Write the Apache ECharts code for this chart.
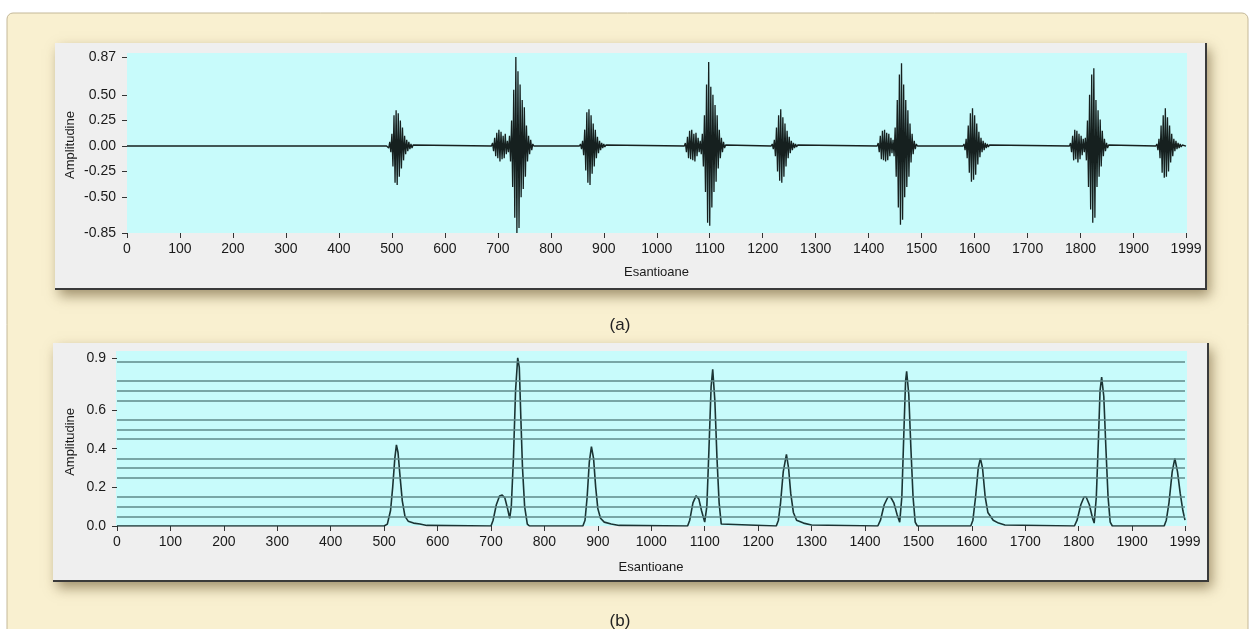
<!DOCTYPE html>
<html>
<head>
<meta charset="utf-8">
<script src="https://cdn.jsdelivr.net/npm/echarts@6/dist/echarts.min.js"></script>
<style>
html,body{margin:0;padding:0;background:#ffffff;}
#chart{width:1252px;height:629px;}
</style>
</head>
<body>
<div id="chart"></div>
<script>
// ---- tick values / labels ----
const xTicks = [0,100,200,300,400,500,600,700,800,900,1000,1100,1200,1300,1400,1500,1600,1700,1800,1900,1999];
const yTicksA = [-0.85,-0.5,-0.25,0,0.25,0.5,0.87];
const yTicksB = [0,0.2,0.4,0.6,0.87];
const yLabelsB = ['0.0','0.2','0.4','0.6','0.9'];
const gridLinesB = [0.05,0.1,0.15,0.25,0.3,0.35,0.45,0.5,0.55,0.65,0.7,0.75,0.85];

// ---- (a) signal bursts: first sample index, then one value every 2 samples ----
const burstStarts = [492, 690, 856, 1054, 1218, 1418, 1580, 1781, 1944];
const burst1 = [0.01,-0.02,0.04,-0.06,0.12,-0.2,0.3,-0.36,0.35,-0.38,0.32,-0.3,0.25,-0.22,0.18,-0.14,0.1,-0.08,0.06,-0.05,0.04,-0.03,0.02,-0.02,0.01,0];
const burst2 = [0.03,-0.05,0.08,-0.1,0.13,-0.12,0.16,-0.15,0.14,-0.13,0.1,-0.12,0.12,-0.08,0.05,-0.06,0.1,-0.15,
                0.25,-0.4,0.55,-0.7,0.87,-0.85,0.73,-0.8,0.6,-0.5,0.45,-0.42,0.38,-0.3,0.2,-0.15,0.1,-0.08,0.06,-0.04,0.02,0];
const burst3 = [0.02,-0.03,0.05,-0.09,0.16,-0.24,0.33,-0.36,0.36,-0.38,0.3,-0.27,0.22,-0.2,0.16,-0.12,0.09,-0.07,0.05,-0.04,0.03,-0.02,0.02,-0.01,0.01,0];
const burst4 = [0.03,-0.06,0.09,-0.12,0.15,-0.13,0.16,-0.14,0.12,-0.15,0.13,-0.1,0.08,-0.06,0.05,-0.08,0.12,-0.2,0.3,
                -0.45,0.6,-0.75,0.82,-0.78,0.58,-0.6,0.5,-0.45,0.4,-0.35,0.3,-0.22,0.16,-0.12,0.08,-0.06,0.04,-0.02,0.01,0];
const burst5 = [0.02,-0.03,0.06,-0.1,0.18,-0.25,0.3,-0.34,0.36,-0.36,0.28,-0.3,0.22,-0.2,0.15,-0.12,0.09,-0.07,0.05,-0.04,0.03,-0.02,0.02,-0.01,0.01,0];
const burst6 = [0.03,-0.06,0.1,-0.13,0.15,-0.14,0.16,-0.15,0.13,-0.14,0.12,-0.1,0.08,-0.07,0.06,-0.1,0.18,-0.3,
                0.45,-0.6,0.7,-0.77,0.81,-0.72,0.6,-0.5,0.45,-0.4,0.35,-0.3,0.22,-0.16,0.12,-0.08,0.05,-0.03,0.02,0];
const burst7 = [0.02,-0.04,0.07,-0.12,0.2,-0.26,0.32,-0.35,0.37,-0.33,0.3,-0.28,0.22,-0.18,0.14,-0.11,0.08,-0.06,0.05,-0.04,0.03,-0.02,0.02,-0.01,0.01,0];
const burst8 = [0.03,-0.06,0.1,-0.14,0.16,-0.13,0.15,-0.16,0.12,-0.13,0.1,-0.09,0.07,-0.06,0.08,-0.14,0.25,
                -0.4,0.5,-0.62,0.7,-0.75,0.76,-0.7,0.45,-0.4,0.35,-0.3,0.26,-0.2,0.15,-0.1,0.07,-0.05,0.03,-0.02,0.01,0];
const burst9 = [0.02,-0.04,0.07,-0.12,0.2,-0.26,0.3,-0.31,0.37,-0.3,0.28,-0.25,0.2,-0.16,0.12,-0.1,0.07,-0.05,0.05,-0.03,0.03,-0.02,0.02,-0.01,0.01,0];
const bursts = [burst1,burst2,burst3,burst4,burst5,burst6,burst7,burst8,burst9];

// ---- (b) envelope: [sample, amplitude] ----
const envelope = [
 [0,0],[500,0],
 [506,0.01],[512,0.08],[516,0.2],[520,0.35],[523,0.42],[526,0.38],[530,0.25],[534,0.13],[539,0.05],[545,0.025],[555,0.015],[567,0.01],[580,0.003],
 [700,0],[704,0.03],[710,0.11],[716,0.155],[721,0.16],[726,0.145],[731,0.09],[735,0.04],[738,0.1],[742,0.35],[746,0.7],[750,0.87],[753,0.82],[756,0.55],[759,0.3],[763,0.1],[768,0.01],[772,0],
 [872,0],[876,0.03],[880,0.15],[884,0.33],[888,0.41],[892,0.35],[896,0.2],[900,0.09],[905,0.04],[912,0.02],[925,0.01],[940,0.003],
 [1068,0],[1072,0.03],[1078,0.12],[1084,0.157],[1089,0.14],[1094,0.08],[1100,0.02],[1104,0.1],[1108,0.4],[1112,0.72],[1115,0.81],[1119,0.65],[1123,0.35],[1127,0.12],[1131,0.01],[1134,0],
 [1234,0],[1238,0.03],[1242,0.12],[1247,0.28],[1253,0.37],[1257,0.3],[1261,0.17],[1266,0.07],[1272,0.03],[1285,0.015],[1300,0.005],
 [1424,0],[1429,0.03],[1436,0.11],[1443,0.15],[1448,0.15],[1454,0.12],[1460,0.06],[1465,0.02],[1469,0.15],[1473,0.5],[1476,0.75],[1478,0.8],[1482,0.68],[1486,0.4],[1490,0.15],[1494,0.02],[1498,0],
 [1598,0],[1602,0.03],[1607,0.15],[1612,0.3],[1616,0.35],[1620,0.3],[1625,0.15],[1630,0.07],[1640,0.03],[1650,0.015],[1662,0.005],
 [1792,0],[1797,0.03],[1804,0.11],[1810,0.15],[1814,0.15],[1820,0.11],[1826,0.04],[1829,0.015],[1833,0.15],[1837,0.45],[1840,0.7],[1843,0.77],[1847,0.67],[1851,0.4],[1855,0.15],[1859,0.02],[1863,0],
 [1960,0],[1964,0.03],[1969,0.12],[1975,0.28],[1980,0.35],[1985,0.28],[1990,0.17],[1995,0.08],[1999,0.03]
];

// build signal points from bursts
const signal = [[0,0]];
bursts.forEach(function(b, k){
  const s = burstStarts[k];
  signal.push([s-2, 0]);
  b.forEach(function(v, i){ signal.push([s + 2*i, v]); });
});
signal.push([1999,0]);

const FONT = '"Liberation Sans", Arial, sans-serif';
const txt = '#1a1a1a';

function xAxisCfg(gridIndex, gap){
  return {
    type:'value', gridIndex:gridIndex, min:0, max:1999, interval:100,
    name:'Esantioane', nameLocation:'middle', nameGap: gap, nameMoveOverlap:false,
    nameTextStyle:{color:txt, fontSize:13, fontFamily:FONT},
    axisLine:{show:false, onZero:false},
    axisTick:{show:true, length:5, inside:false, customValues:xTicks, lineStyle:{color:'#333'}},
    axisLabel:{show:true, margin:9, color:txt, fontSize:14, fontFamily:FONT, customValues:xTicks,
               showMinLabel:true, showMaxLabel:true, formatter:function(v){ return String(v); }},
    splitLine:{show:false}
  };
}

const option = {
  animation:false,
  backgroundColor:'#ffffff',
  graphic:[
    {type:'rect', z:-100, shape:{x:7, y:13, width:1241, height:640, r:6},
     style:{fill:'#f9f0d0', stroke:'#c4b898', lineWidth:1}},
    // panel (a)
    {type:'rect', z:-90, shape:{x:55, y:43, width:1151, height:247},
     style:{fill:'#efefef', shadowBlur:12, shadowColor:'rgba(90,70,30,0.55)', shadowOffsetX:4, shadowOffsetY:6}},
    {type:'line', z:-89, shape:{x1:55, y1:289, x2:1207, y2:289}, style:{stroke:'#3a3a3a', lineWidth:2}},
    {type:'line', z:-89, shape:{x1:1206, y1:43, x2:1206, y2:290}, style:{stroke:'#3a3a3a', lineWidth:2}},
    {type:'rect', z:-80, shape:{x:127, y:53, width:1060, height:180}, style:{fill:'#c8fbfb'}},
    // panel (b)
    {type:'rect', z:-90, shape:{x:53, y:343, width:1155, height:239},
     style:{fill:'#efefef', shadowBlur:12, shadowColor:'rgba(90,70,30,0.55)', shadowOffsetX:4, shadowOffsetY:6}},
    {type:'line', z:-89, shape:{x1:53, y1:581, x2:1209, y2:581}, style:{stroke:'#3a3a3a', lineWidth:2}},
    {type:'line', z:-89, shape:{x1:1208, y1:343, x2:1208, y2:582}, style:{stroke:'#3a3a3a', lineWidth:2}},
    {type:'rect', z:-80, shape:{x:116, y:351, width:1071, height:175}, style:{fill:'#c8fbfb'}},
    {type:'text', z:10, x:620, y:325, style:{text:'(a)', fill:'#222', font:'17px "Liberation Sans", Arial, sans-serif', textAlign:'center', textVerticalAlign:'middle'}},
    {type:'text', z:10, x:620, y:621, style:{text:'(b)', fill:'#222', font:'17px "Liberation Sans", Arial, sans-serif', textAlign:'center', textVerticalAlign:'middle'}}
  ],
  grid:[
    {left:127, top:57, width:1059, height:176, containLabel:false},
    {left:117, top:357.8, width:1068, height:168.2, containLabel:false}
  ],
  xAxis:[xAxisCfg(0, 33), xAxisCfg(1, 35)],
  yAxis:[
    {type:'value', gridIndex:0, min:-0.85, max:0.87,
     name:'Amplitudine', nameLocation:'middle', nameGap:50, nameRotate:90, nameMoveOverlap:false,
     nameTextStyle:{color:txt, fontSize:13, fontFamily:FONT},
     axisLine:{show:false},
     axisTick:{show:true, length:5, customValues:yTicksA, lineStyle:{color:'#333'}},
     axisLabel:{margin:11, color:txt, fontSize:14, fontFamily:FONT, customValues:yTicksA,
                formatter:function(v){ return v.toFixed(2); }},
     splitLine:{show:false}},
    {type:'value', gridIndex:1, min:0, max:0.87,
     name:'Amplitudine', nameLocation:'middle', nameGap:40, nameRotate:90, nameMoveOverlap:false,
     nameTextStyle:{color:txt, fontSize:13, fontFamily:FONT},
     axisLine:{show:false},
     axisTick:{show:true, length:5, customValues:yTicksB, lineStyle:{color:'#333'}},
     axisLabel:{margin:11, color:txt, fontSize:14, fontFamily:FONT, customValues:yTicksB,
                formatter:function(v){ const i = yTicksB.indexOf(v); return i>=0 ? yLabelsB[i] : ''; }},
     splitLine:{show:false}}
  ],
  series:[
    {type:'line', xAxisIndex:0, yAxisIndex:0, data:signal, showSymbol:false, symbol:'none',
     lineStyle:{color:'#16201f', width:1.3}, z:3, clip:true},
    {type:'line', xAxisIndex:1, yAxisIndex:1, data:[], symbol:'none', z:1,
     markLine:{silent:true, symbol:'none', label:{show:false}, animation:false,
               lineStyle:{color:'#5f8a8a', width:1.5, type:'solid'},
               data:gridLinesB.map(function(v){ return {yAxis:v}; })}},
    {type:'line', xAxisIndex:1, yAxisIndex:1, data:envelope, showSymbol:false, symbol:'none',
     lineStyle:{color:'#1b3434', width:1.6}, z:3, clip:true}
  ]
};

const chart = echarts.init(document.getElementById('chart'), null, {renderer:'canvas'});
chart.setOption(option);
</script>
</body>
</html>
